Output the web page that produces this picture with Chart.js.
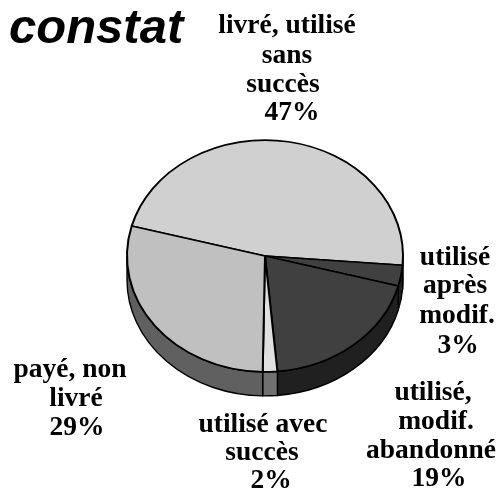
<!DOCTYPE html>
<html><head><meta charset="utf-8">
<style>html,body{margin:0;padding:0;background:#fff}canvas{display:block}</style>
<script src="https://cdn.jsdelivr.net/npm/chart.js@4"></script>
</head><body>
<canvas id="c" width="497" height="490"></canvas>
<script>
const titleText = 'constat';
const categories = ['livré, utilisé sans succès','utilisé après modif.','utilisé, modif. abandonné','utilisé avec succès','payé, non livré'];
const values = [47.1,2.9,19.4,1.7,28.9];
const topColors = ['#d0d0d0','#404040','#404040','#e0e0e0','#c0c0c0'];
const sideColors = ['#686868','#202020','#202020','#707070','#606060'];
const labelLines = [
  ['livré, utilisé','sans','succès','47%'],
  ['utilisé','après','modif.','3%'],
  ['utilisé,','modif.','abandonné','19%'],
  ['utilisé avec','succès','2%'],
  ['payé, non','livré','29%']
];
// layout only
const labelCx = [[287,287,283,292],[455,455,457,458],[433,436,431,439],[263,262,271],[70,76,77]];
const labelBase = [[33,63,92,120],[265,293,323,353],[400,429,458,486],[432,460,488],[377,406,435]];
const squash = 0.84, depth = 24;
const cx=265, cy=256;

const tilt = {
  id:'tilt',
  beforeDatasetsDraw(chart){
    const ctx=chart.ctx, arcs=chart.getDatasetMeta(0).data;
    ctx.save();
    ctx.lineWidth=1.4; ctx.strokeStyle='#000'; ctx.lineJoin='round';
    arcs.forEach((a,i)=>{
      const r=a.outerRadius, ry=r*squash;
      const segs=[[a.startAngle,a.endAngle],[a.startAngle-2*Math.PI,a.endAngle-2*Math.PI]];
      segs.forEach(([s,e])=>{
        const a0=Math.max(s,0), a1=Math.min(e,Math.PI);
        if(a1<=a0) return;
        ctx.beginPath();
        ctx.ellipse(a.x,a.y,r,ry,0,a0,a1);
        ctx.ellipse(a.x,a.y+depth,r,ry,0,a1,a0,true);
        ctx.closePath();
        ctx.fillStyle=sideColors[i];
        ctx.fill(); ctx.stroke();
      });
    });
    ctx.restore();
    ctx.save();
    ctx.translate(cx,cy); ctx.scale(1,squash); ctx.translate(-cx,-cy);
  },
  afterDatasetsDraw(chart){
    const ctx=chart.ctx;
    ctx.restore();
    ctx.save();
    ctx.fillStyle='#000'; ctx.textBaseline='alphabetic'; ctx.textAlign='center';
    ctx.font='bold 27.5px "Liberation Serif"';
    labelLines.forEach((ls,i)=>ls.forEach((t,j)=>ctx.fillText(t,labelCx[i][j],labelBase[i][j])));
    ctx.textAlign='left';
    ctx.font='italic bold 49px "Liberation Sans"';
    ctx.fillText(titleText,9,43);
    ctx.restore();
  }
};

new Chart(document.getElementById('c'),{
  type:'pie',
  data:{labels:categories,datasets:[{data:values,backgroundColor:topColors,borderColor:'#000',borderWidth:2,borderJoinStyle:'round',clip:false}]},
  options:{
    responsive:false,animation:false,rotation:285,
    layout:{padding:{left:126,right:93,top:117,bottom:95}},
    plugins:{legend:{display:false},tooltip:{enabled:false},title:{display:false}}
  },
  plugins:[tilt]
});
</script>
</body></html>
